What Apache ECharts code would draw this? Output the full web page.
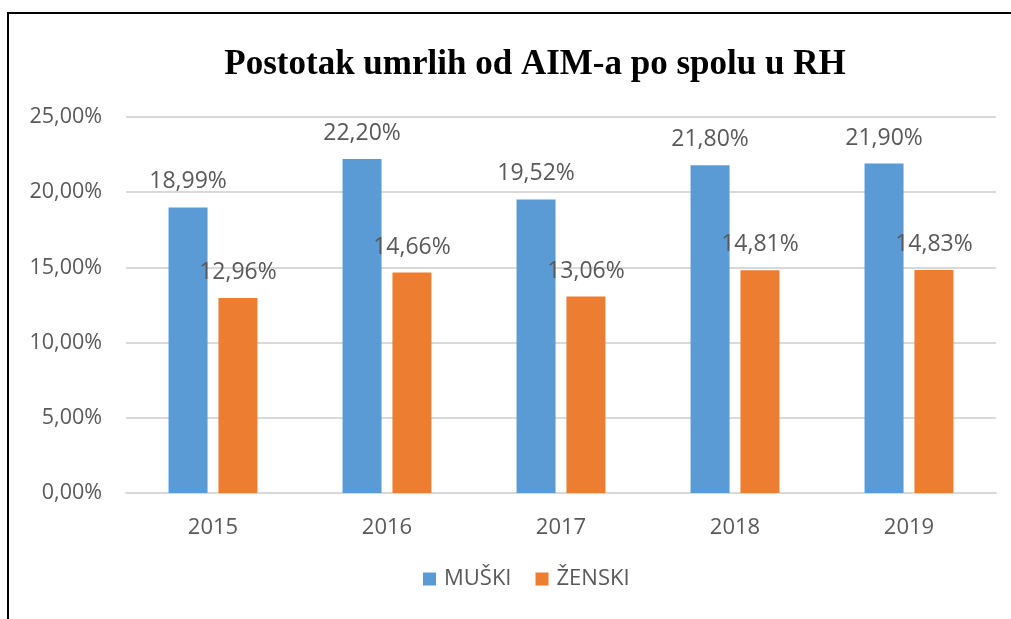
<!DOCTYPE html>
<html>
<head>
<meta charset="utf-8">
<script src="https://cdn.jsdelivr.net/npm/echarts@6/dist/echarts.min.js"></script>
<style>
    html, body {
        margin: 0;
        padding: 0;
        background: #fff;
    }
    #frame {
        position: absolute;
        left: 7px;
        top: 12px;
        width: 1020px;
        height: 640px;
        border-left: 2px solid #000;
        border-top: 2px solid #000;
        box-sizing: border-box;
    }
    #chart {
        position: absolute;
        left: 0;
        top: 0;
        width: 1011px;
        height: 619px;
    }
</style>
</head>
<body>
<div id="frame"></div>
<div id="chart"></div>
<script>
const years = ['2015', '2016', '2017', '2018', '2019'];
const muski = [18.99, 22.20, 19.52, 21.80, 21.90];
const zenski = [12.96, 14.66, 13.06, 14.81, 14.83];
const seriesNames = ['MUŠKI', 'ŽENSKI'];

const grey = '#595959';
const fmt = (v) => v.toFixed(2).replace('.', ',') + '%';

const chart = echarts.init(document.getElementById('chart'));

const labelOpt = {
    show: true,
    position: 'top',
    distance: 14,
    color: grey,
    fontFamily: 'Open Sans',
    fontSize: 23,
    formatter: (p) => fmt(p.value)
};

chart.setOption({
    animation: false,
    title: {
        text: 'Postotak umrlih od AIM-a po spolu u RH',
        left: 530,
        top: 42,
        textAlign: 'center',
        textStyle: {
            fontFamily: 'Liberation Serif',
            fontWeight: 'bold',
            fontSize: 35,
            color: '#000'
        }
    },
    legend: {
        data: seriesNames,
        bottom: 24,
        left: 418,
        itemWidth: 13,
        itemHeight: 13,
        itemGap: 24,
        icon: 'rect',
        textStyle: {
            color: grey,
            fontFamily: 'Open Sans',
            fontSize: 22,
            padding: [0, 0, 0, 3]
        }
    },
    grid: {
        left: 126,
        right: 15,
        top: 117,
        bottom: 126
    },
    xAxis: {
        type: 'category',
        data: years,
        axisTick: { show: false },
        axisLine: { lineStyle: { color: '#d9d9d9', width: 2 } },
        axisLabel: {
            color: grey,
            fontFamily: 'Open Sans',
            fontSize: 22,
            margin: 24
        }
    },
    yAxis: {
        type: 'value',
        min: 0,
        max: 25,
        interval: 5,
        axisLine: { show: false },
        axisTick: { show: false },
        splitLine: { lineStyle: { color: '#d9d9d9', width: 2 } },
        axisLabel: {
            color: grey,
            fontFamily: 'Open Sans',
            fontSize: 21.5,
            margin: 24,
            formatter: (v) => fmt(v)
        }
    },
    series: [
        {
            name: seriesNames[0],
            type: 'bar',
            data: muski,
            barWidth: 39,
            barGap: '28%',
            itemStyle: { color: '#5b9bd5' },
            label: labelOpt
        },
        {
            name: seriesNames[1],
            type: 'bar',
            data: zenski,
            barWidth: 39,
            itemStyle: { color: '#ed7d31' },
            label: labelOpt
        }
    ]
});
</script>
</body>
</html>
